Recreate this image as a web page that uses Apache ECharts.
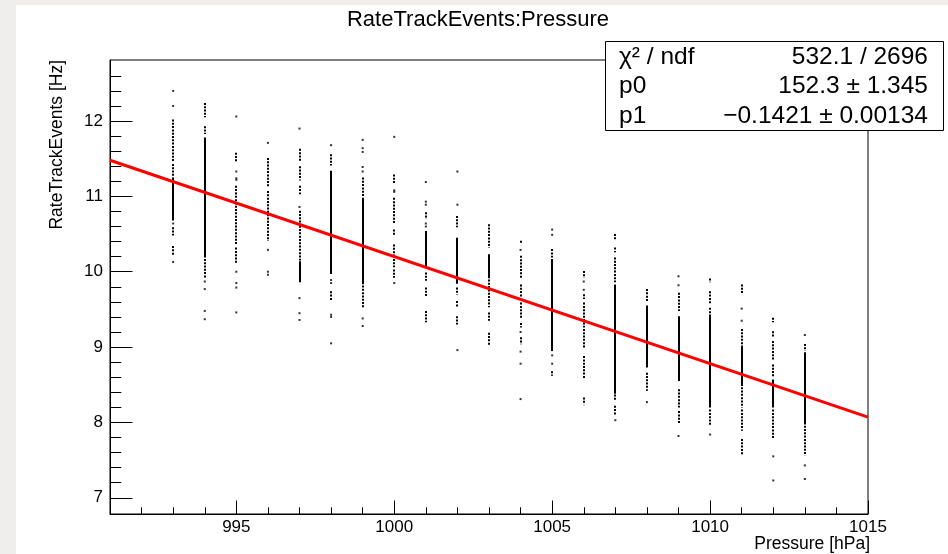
<!DOCTYPE html>
<html>
<head>
<meta charset="utf-8">
<script src="https://cdn.jsdelivr.net/npm/echarts@6/dist/echarts.min.js"></script>
<style>
html,body{margin:0;padding:0;background:#fff;}
#chart{width:948px;height:554px;}
</style>
</head>
<body>
<div id="chart"></div>
<script>
// ---------- data ----------
const xMajorTicks = [995, 1000, 1005, 1010, 1015];
const xMinorTicks = [992, 993, 994, 996, 997, 998, 999, 1001, 1002, 1003, 1004, 1006, 1007, 1008, 1009, 1011, 1012, 1013, 1014];
const yMajorTicks = [7, 8, 9, 10, 11, 12];
const yMinorTicks = [7.2, 7.4, 7.6, 7.8, 8.2, 8.4, 8.6, 8.8, 9.2, 9.4, 9.6, 9.8, 10.2, 10.4, 10.6, 10.8, 11.2, 11.4, 11.6, 11.8, 12.2, 12.4, 12.6];

// dense (solid-looking) stretches of points: [pressure, low, high]
const solidRuns = [
  [993, 10.69, 11.24], [994, 10.20, 11.77], [997, 9.87, 10.13], [998, 9.98, 11.33],
  [999, 9.85, 10.97], [1001, 10.07, 10.53], [1002, 9.85, 10.44], [1003, 9.93, 10.22],
  [1005, 8.96, 10.16], [1007, 8.39, 9.82], [1008, 8.74, 9.54], [1009, 8.56, 9.40],
  [1010, 8.21, 9.40], [1011, 8.52, 9.00], [1012, 8.21, 8.56], [1013, 7.99, 8.92]
];

// looser (dotted-looking) stretches of points: [pressure, low, high]
const dottedRuns = [
  [993, 11.48, 12.01], [993, 11.26, 11.42], [993, 10.49, 10.58], [993, 10.22, 10.33],
  [994, 12.06, 12.23], [994, 11.84, 11.92], [994, 9.93, 10.16],
  [995, 11.46, 11.57], [995, 11.06, 11.13], [995, 10.38, 11.04], [995, 10.13, 10.31],
  [996, 11.13, 11.50], [996, 10.42, 11.06],
  [997, 11.48, 11.62], [997, 11.22, 11.39], [997, 11.04, 11.13], [997, 10.60, 10.80], [997, 10.16, 10.60],
  [998, 11.42, 11.55], [998, 9.63, 9.73],
  [999, 11.00, 11.24], [999, 9.54, 9.85],
  [1000, 11.17, 11.28], [1000, 10.64, 10.97], [1000, 10.49, 10.55], [1000, 10.20, 10.35], [1000, 10.07, 10.16], [1000, 9.93, 10.02],
  [1001, 10.71, 10.78], [1001, 9.89, 9.98], [1001, 9.69, 9.78], [1001, 9.34, 9.47],
  [1002, 10.60, 10.73], [1002, 9.71, 9.78], [1002, 9.54, 9.60], [1002, 9.31, 9.40],
  [1003, 10.33, 10.62], [1003, 9.54, 9.93], [1003, 9.36, 9.45], [1003, 9.03, 9.18],
  [1004, 10.38, 10.40], [1004, 9.93, 10.20], [1004, 9.67, 9.82], [1004, 9.40, 9.58], [1004, 9.27, 9.31], [1004, 9.05, 9.12],
  [1005, 10.20, 10.29], [1005, 8.63, 8.67],
  [1006, 9.93, 10.00], [1006, 9.65, 9.69], [1006, 9.27, 9.58], [1006, 9.00, 9.23], [1006, 8.59, 8.87], [1006, 8.25, 8.32],
  [1007, 10.44, 10.49], [1007, 10.27, 10.31], [1007, 9.87, 10.18], [1007, 8.30, 8.36], [1007, 8.10, 8.21],
  [1008, 9.62, 9.76], [1008, 8.43, 8.65],
  [1009, 9.49, 9.71], [1009, 8.21, 8.43], [1009, 7.99, 8.14],
  [1010, 9.87, 9.90], [1010, 9.58, 9.73], [1010, 9.40, 9.51], [1010, 7.97, 8.16],
  [1011, 9.71, 9.82], [1011, 9.00, 9.23], [1011, 8.21, 8.50], [1011, 7.90, 8.16], [1011, 7.59, 7.77],
  [1012, 9.34, 9.38], [1012, 9.14, 9.20], [1012, 8.83, 9.07], [1012, 8.61, 8.76], [1012, 7.79, 8.16],
  [1013, 8.96, 9.03], [1013, 7.57, 7.99]
];

// isolated points: [pressure, rate]
const isolatedPoints = [
  [993, 12.40], [993, 12.20], [993, 10.64], [993, 10.13],
  [994, 9.87], [994, 9.77], [994, 9.48], [994, 9.37],
  [995, 12.06], [995, 11.33], [995, 11.24], [995, 11.22], [995, 10.00], [995, 9.85], [995, 9.79], [995, 9.46],
  [996, 11.71], [996, 10.29], [996, 10.00], [996, 9.96],
  [997, 11.90], [997, 10.86], [997, 9.65], [997, 9.45], [997, 9.36],
  [998, 11.68], [998, 9.89], [998, 9.85], [998, 9.43], [998, 9.40], [998, 9.05],
  [999, 11.75], [999, 11.64], [999, 11.59], [999, 11.39], [999, 11.33], [999, 9.38], [999, 9.28],
  [1000, 11.79], [1000, 11.08], [1000, 11.06], [1000, 9.85],
  [1001, 11.19], [1001, 10.93], [1001, 10.89], [1001, 10.64], [1001, 10.60],
  [1002, 11.33], [1002, 10.89], [1002, 8.96],
  [1004, 10.29], [1004, 9.20], [1004, 8.94], [1004, 8.78], [1004, 8.31],
  [1005, 10.56], [1005, 10.49], [1005, 8.89], [1005, 8.78],
  [1006, 9.87], [1006, 9.76],
  [1007, 8.03],
  [1008, 8.27],
  [1009, 9.94], [1009, 9.82], [1009, 7.82],
  [1010, 7.84],
  [1011, 9.51], [1011, 9.35],
  [1012, 7.55], [1012, 7.23],
  [1013, 9.16], [1013, 7.43], [1013, 7.25]
];

// fit line end points (pol1 fit shown in stats box)
const fitPressure = [991, 1015];
const fitRate = [11.48, 8.07];

const statsLabels = ['χ² / ndf', 'p0', 'p1'];
const statsValues = ['532.1 / 2696', '152.3 ± 1.345', '−0.1421 ± 0.00134'];

// ---------- chart ----------
const FONT = '"Liberation Sans", Arial, Helvetica, sans-serif';
const chart = echarts.init(document.getElementById('chart'), null, {renderer: 'canvas'});

function runRenderer(width, dash) {
  return function (params, api) {
    const top = api.coord([api.value(0), api.value(2)]);
    const bot = api.coord([api.value(0), api.value(1)]);
    const x = Math.round(top[0]);
    const style = {stroke: '#000', lineWidth: width, fill: null};
    if (dash) style.lineDash = dash;
    return {
      type: 'line',
      shape: {x1: x, y1: top[1] - 0.8, x2: x, y2: bot[1] + 0.8},
      style: style
    };
  };
}

const fitData = fitPressure.map((p, i) => [p, fitRate[i]]);

const statsGraphics = [{
  type: 'rect', z: 100,
  shape: {x: 605.5, y: 41.5, width: 338, height: 89},
  style: {fill: '#fff', stroke: '#000', lineWidth: 1}
}];
const rowY = [57, 86.5, 116];
statsLabels.forEach((t, i) => {
  statsGraphics.push({type: 'text', z: 101, x: 619, y: rowY[i],
    style: {text: t, font: '24.5px ' + FONT, fill: '#000', textAlign: 'left', textVerticalAlign: 'middle'}});
  statsGraphics.push({type: 'text', z: 101, x: 928, y: rowY[i],
    style: {text: statsValues[i], font: '24.5px ' + FONT, fill: '#000', textAlign: 'right', textVerticalAlign: 'middle'}});
});

const GRID = {left: 110, right: 80, top: 60, bottom: 40};
const axisCommonX = {type: 'value', min: 991, max: 1015, position: 'bottom', splitLine: {show: false}};
const axisCommonY = {type: 'value', min: 6.785, max: 12.81, position: 'left', splitLine: {show: false}};

const option = {
  animation: false,
  backgroundColor: '#ffffff',
  grid: [
    Object.assign({show: true, borderColor: '#000', borderWidth: 1, backgroundColor: 'transparent'}, GRID),
    Object.assign({show: false}, GRID)
  ],
  xAxis: [
    Object.assign({}, axisCommonX, {
      gridIndex: 0,
      axisLine: {show: true, lineStyle: {color: '#000', width: 1}},
      axisTick: {show: true, inside: true, length: 13.5, customValues: xMajorTicks, lineStyle: {color: '#000', width: 1}},
      axisLabel: {show: true, customValues: xMajorTicks, color: '#000', fontSize: 17, fontFamily: FONT, margin: 5,
        formatter: v => String(v)}
    }),
    Object.assign({}, axisCommonX, {
      gridIndex: 1,
      axisLine: {show: false},
      axisTick: {show: true, inside: true, length: 6.7, customValues: xMinorTicks, lineStyle: {color: '#000', width: 1}},
      axisLabel: {show: false}
    })
  ],
  yAxis: [
    Object.assign({}, axisCommonY, {
      gridIndex: 0,
      axisLine: {show: true, lineStyle: {color: '#000', width: 1}},
      axisTick: {show: true, inside: true, length: 22.5, customValues: yMajorTicks, lineStyle: {color: '#000', width: 1}},
      axisLabel: {show: true, customValues: yMajorTicks, color: '#000', fontSize: 17, fontFamily: FONT, margin: 7,
        formatter: v => String(v)}
    }),
    Object.assign({}, axisCommonY, {
      gridIndex: 1,
      axisLine: {show: false},
      axisTick: {show: true, inside: true, length: 11.3, customValues: yMinorTicks, lineStyle: {color: '#000', width: 1}},
      axisLabel: {show: false}
    })
  ],
  series: [
    {
      type: 'custom', name: 'dense', xAxisIndex: 0, yAxisIndex: 0,
      renderItem: runRenderer(2, null),
      encode: {x: 0, y: [1, 2]},
      data: solidRuns, z: 2
    },
    {
      type: 'custom', name: 'loose', xAxisIndex: 0, yAxisIndex: 0,
      renderItem: runRenderer(2, [2, 1.3]),
      encode: {x: 0, y: [1, 2]},
      data: dottedRuns, z: 2
    },
    {
      type: 'scatter', name: 'points', xAxisIndex: 0, yAxisIndex: 0,
      symbol: 'rect', symbolSize: [2, 2],
      itemStyle: {color: '#000'},
      data: isolatedPoints, z: 2
    },
    {
      type: 'line', name: 'fit', xAxisIndex: 0, yAxisIndex: 0,
      data: fitData, showSymbol: false, symbol: 'none',
      lineStyle: {color: '#ff0000', width: 3},
      z: 5
    }
  ],
  graphic: [
    {type: 'rect', z: 90, shape: {x: 0, y: 0, width: 948, height: 5}, style: {fill: '#efeeec'}},
    {type: 'rect', z: 90, shape: {x: 0, y: 0, width: 16, height: 554}, style: {fill: '#efeeec'}},
    {type: 'text', z: 100, x: 478, y: 20,
      style: {text: 'RateTrackEvents:Pressure', font: '22px ' + FONT, fill: '#000', textAlign: 'center', textVerticalAlign: 'middle'}},
    {type: 'text', z: 100, x: 57, y: 60, rotation: Math.PI / 2,
      style: {text: 'RateTrackEvents [Hz]', font: '17.5px ' + FONT, fill: '#000', textAlign: 'right', textVerticalAlign: 'middle'}},
    {type: 'text', z: 100, x: 870, y: 544,
      style: {text: 'Pressure [hPa]', font: '17.5px ' + FONT, fill: '#000', textAlign: 'right', textVerticalAlign: 'middle'}}
  ].concat(statsGraphics)
};
chart.setOption(option);
</script>
</body>
</html>
